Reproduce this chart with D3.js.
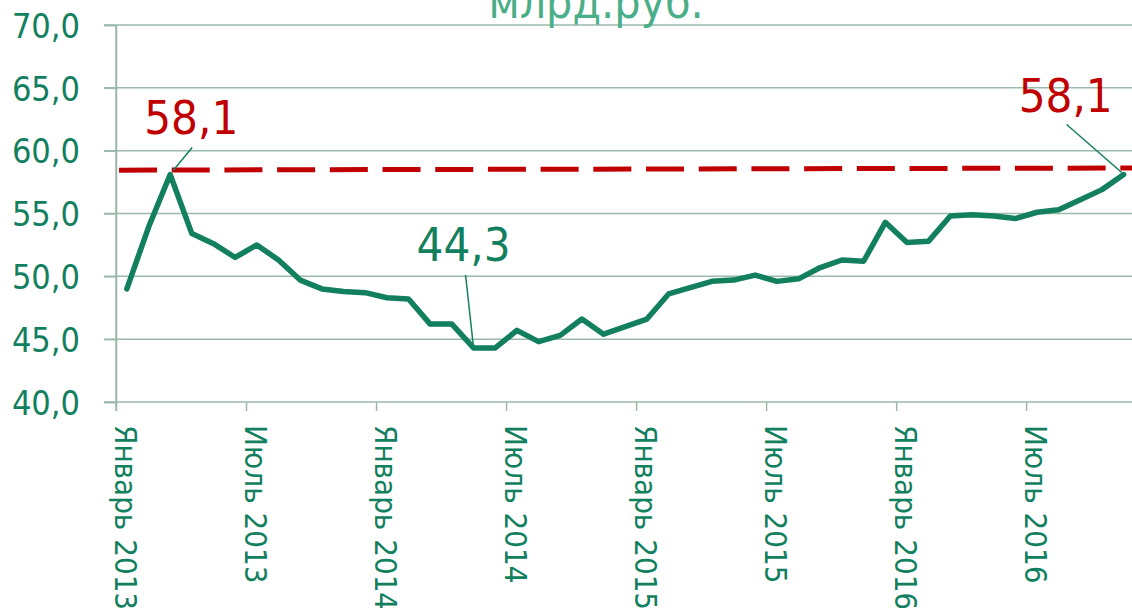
<!DOCTYPE html>
<html>
<head>
<meta charset="utf-8">
<script src="https://cdn.jsdelivr.net/npm/d3@7"></script>
<style>
  body { margin: 0; background: #fff; }
  text { font-family: "DejaVu Sans Condensed", "DejaVu Sans", sans-serif; }
</style>
</head>
<body>
<svg id="chart" width="1132" height="608"></svg>
<script>
// monthly values, Jan 2013 .. Nov 2016, bn rub
var years = [2013, 2014, 2015, 2016];
var monthNames = ["Январь", "Февраль", "Март", "Апрель", "Май", "Июнь",
                  "Июль", "Август", "Сентябрь", "Октябрь", "Ноябрь", "Декабрь"];
var values = [49.0, 53.9, 58.1, 53.4, 52.6, 51.5, 52.5, 51.3, 49.7, 49.0, 48.8, 48.7,
              48.3, 48.2, 46.2, 46.2, 44.3, 44.3, 45.7, 44.8, 45.3, 46.6, 45.4, 46.0,
              46.6, 48.6, 49.1, 49.6, 49.7, 50.1, 49.6, 49.8, 50.7, 51.3, 51.2, 54.3,
              52.7, 52.8, 54.8, 54.9, 54.8, 54.6, 55.1, 55.3, 56.1, 56.9, 58.1];
var tickLabels = ["Январь 2013", "Июль 2013", "Январь 2014", "Июль 2014",
                  "Январь 2015", "Июль 2015", "Январь 2016", "Июль 2016"];
var yTicks = [40, 45, 50, 55, 60, 65, 70];
var refLine = [58.45, 58.62];   // dashed level, start and end
var title = "млрд.руб.";
var annotations = [
  {index: 2, text: "58,1", color: "#c00000"},
  {index: 16, text: "44,3", color: "#127f5e"},
  {index: 46, text: "58,1", color: "#c00000"}
];

var categories = [];
years.forEach(function(y) {
  monthNames.forEach(function(m) {
    if (categories.length < values.length) categories.push(m + " " + y);
  });
});

var green = "#127f5e";
var gridColor = "#9bb9a9";

var svg = d3.select("#chart");
var plotLeft = 116, plotRight = 1134.5, plotTop = 25, plotBottom = 402;

// category axis: ticks sit on the borders between months
var x = d3.scaleLinear().domain([0, categories.length]).range([plotLeft, plotRight]);
var y = d3.scaleLinear().domain([40, 70]).range([plotBottom, plotTop]);

// gridlines
svg.append("g")
  .selectAll("line")
  .data(yTicks)
  .enter()
  .append("line")
    .attr("x1", plotLeft - 12)
    .attr("x2", 1132)
    .attr("y1", function(d) { return y(d); })
    .attr("y2", function(d) { return y(d); })
    .attr("stroke", gridColor)
    .attr("stroke-width", 1.5);

// y axis
var yAxis = svg.append("g")
  .attr("transform", "translate(" + plotLeft + ",0)")
  .call(d3.axisLeft(y)
    .tickValues(yTicks)
    .tickSize(12)
    .tickPadding(24)
    .tickFormat(function(d) { return d3.format(".1f")(d).replace(".", ","); }));
yAxis.select(".domain").attr("stroke", gridColor).attr("stroke-width", 1.5);
yAxis.selectAll(".tick line").attr("stroke", gridColor).attr("stroke-width", 1.5);
yAxis.selectAll("text")
  .attr("fill", green)
  .style("font-size", "34px")
  .attr("dy", "0.36em");

// x axis
var xAxis = svg.append("g")
  .attr("transform", "translate(0," + plotBottom + ")")
  .call(d3.axisBottom(x)
    .tickValues(d3.range(0, categories.length, 6))
    .tickSize(9)
    .tickSizeOuter(0)
    .tickFormat(function(d) { return tickLabels[d / 6]; }));
xAxis.select(".domain").remove();
xAxis.selectAll(".tick line").attr("stroke", gridColor).attr("stroke-width", 1.5);
xAxis.selectAll("text")
  .attr("transform", "rotate(90)")
  .attr("x", 23)
  .attr("y", 0)
  .attr("dy", "0.05em")
  .style("text-anchor", "start")
  .style("font-size", "31px")
  .attr("fill", green);

// vertical axis line down to the first tick
svg.append("line")
  .attr("x1", plotLeft).attr("x2", plotLeft)
  .attr("y1", plotTop).attr("y2", plotBottom + 9)
  .attr("stroke", gridColor).attr("stroke-width", 1.5);

// title (cut at the top like in the source)
svg.append("text")
  .attr("x", 596)
  .attr("y", 18)
  .attr("text-anchor", "middle")
  .attr("fill", "#4aae88")
  .style("font-size", "46px")
  .text(title);

// dashed level line
svg.append("line")
  .attr("x1", x(0.14))
  .attr("x2", 1132)
  .attr("y1", y(refLine[0]))
  .attr("y2", y(refLine[1]))
  .attr("stroke", "#c00000")
  .attr("stroke-width", 5)
  .attr("stroke-dasharray", "38,14.7");

// main line
var line = d3.line()
  .x(function(d, i) { return x(i + 0.5); })
  .y(function(d) { return y(d); });

svg.append("path")
  .datum(values)
  .attr("d", line)
  .attr("fill", "none")
  .attr("stroke", green)
  .attr("stroke-width", 5.5)
  .attr("stroke-linejoin", "round")
  .attr("stroke-linecap", "round");

// labels with leader lines, offsets from the point
var labelLayout = [
  {tx: -26, ty: -41, lx: 22, ly: -27, ex: 3, ey: -4},
  {tx: -57, ty: -87, lx: -8, ly: -73, ex: 0, ey: 0},
  {tx: -105, ty: -63, lx: -57, ly: -50, ex: -2, ey: -2}
];

annotations.forEach(function(a, i) {
  var px = x(a.index + 0.5), py = y(values[a.index]);
  var l = labelLayout[i];
  svg.append("line")
    .attr("x1", px + l.lx).attr("y1", py + l.ly)
    .attr("x2", px + l.ex).attr("y2", py + l.ey)
    .attr("stroke", green)
    .attr("stroke-width", 1.5);
  svg.append("text")
    .attr("x", px + l.tx)
    .attr("y", py + l.ty)
    .attr("fill", a.color)
    .style("font-size", "47px")
    .text(a.text);
});
</script>
</body>
</html>
